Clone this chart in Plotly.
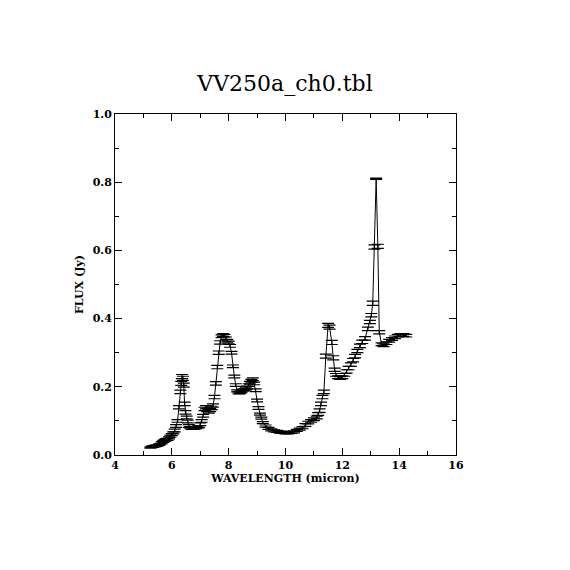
import plotly.graph_objects as go

# spectrum
wavelength = [
    5.25, 5.30, 5.35, 5.40, 5.45, 5.50, 5.55, 5.60, 5.65, 5.70,
    5.75, 5.80, 5.85, 5.90, 5.95, 6.00, 6.05, 6.10, 6.15, 6.20,
    6.25, 6.30, 6.33, 6.36, 6.39, 6.42, 6.45, 6.48, 6.52, 6.56,
    6.60, 6.65, 6.70, 6.75, 6.80, 6.85, 6.90, 6.95, 7.00, 7.05,
    7.10, 7.15, 7.20, 7.25, 7.30, 7.35, 7.40, 7.45, 7.50, 7.55,
    7.60, 7.65, 7.70, 7.75, 7.80, 7.85, 7.90, 7.95, 8.00, 8.05,
    8.10, 8.15, 8.20, 8.25, 8.30, 8.35, 8.40, 8.45, 8.50, 8.55,
    8.60, 8.65, 8.70, 8.75, 8.80, 8.85, 8.90, 8.95, 9.00, 9.05,
    9.10, 9.15, 9.20, 9.30, 9.40, 9.50, 9.60, 9.70, 9.80, 9.90,
    10.00, 10.10, 10.20, 10.30, 10.40, 10.50, 10.60, 10.70, 10.80, 10.90,
    11.00, 11.10, 11.15, 11.20, 11.25, 11.30, 11.35, 11.42, 11.50, 11.55,
    11.63, 11.68, 11.73, 11.78, 11.85, 11.92, 12.00, 12.07, 12.15, 12.22,
    12.30, 12.38, 12.45, 12.53, 12.62, 12.70, 12.80, 12.90, 12.97, 13.02,
    13.07, 13.13, 13.19, 13.25, 13.30, 13.38, 13.45, 13.55, 13.65, 13.75,
    13.85, 13.95, 14.05, 14.15, 14.25,
]
flux = [
    0.022, 0.024, 0.025, 0.026, 0.027, 0.028, 0.030, 0.032, 0.036, 0.040,
    0.043, 0.045, 0.046, 0.050, 0.055, 0.060, 0.065, 0.072, 0.085, 0.100,
    0.140, 0.185, 0.210, 0.230, 0.225, 0.205, 0.150, 0.125, 0.110, 0.098,
    0.085, 0.080, 0.078, 0.078, 0.079, 0.080, 0.082, 0.083, 0.090, 0.100,
    0.115, 0.135, 0.140, 0.132, 0.128, 0.132, 0.138, 0.145, 0.170, 0.210,
    0.258, 0.300, 0.330, 0.348, 0.352, 0.350, 0.342, 0.335, 0.330, 0.320,
    0.300, 0.260, 0.230, 0.205, 0.188, 0.182, 0.183, 0.186, 0.190, 0.192,
    0.195, 0.198, 0.205, 0.212, 0.218, 0.222, 0.210, 0.190, 0.160, 0.138,
    0.120, 0.108, 0.095, 0.085, 0.078, 0.074, 0.071, 0.069, 0.067, 0.066,
    0.065, 0.065, 0.066, 0.068, 0.072, 0.076, 0.080, 0.088, 0.095, 0.100,
    0.105, 0.110, 0.120, 0.130, 0.150, 0.170, 0.185, 0.290, 0.380, 0.375,
    0.330, 0.285, 0.250, 0.235, 0.228, 0.226, 0.228, 0.235, 0.245, 0.255,
    0.265, 0.278, 0.290, 0.305, 0.320, 0.332, 0.342, 0.370, 0.390, 0.410,
    0.445, 0.610, 0.810, 0.612, 0.360, 0.325, 0.322, 0.328, 0.335, 0.340,
    0.345, 0.350, 0.352, 0.352, 0.350,
]
flux_err = [
    0.002, 0.002, 0.002, 0.002, 0.002, 0.002, 0.002, 0.002, 0.003, 0.003,
    0.003, 0.003, 0.003, 0.003, 0.003, 0.003, 0.003, 0.004, 0.004, 0.004,
    0.005, 0.005, 0.006, 0.006, 0.006, 0.006, 0.005, 0.005, 0.004, 0.004,
    0.004, 0.003, 0.003, 0.003, 0.003, 0.003, 0.003, 0.003, 0.004, 0.004,
    0.004, 0.005, 0.005, 0.005, 0.005, 0.005, 0.005, 0.005, 0.005, 0.005,
    0.005, 0.005, 0.005, 0.004, 0.004, 0.004, 0.004, 0.004, 0.004, 0.004,
    0.004, 0.004, 0.004, 0.004, 0.003, 0.003, 0.003, 0.003, 0.003, 0.003,
    0.004, 0.004, 0.004, 0.004, 0.004, 0.004, 0.004, 0.004, 0.004, 0.004,
    0.003, 0.003, 0.003, 0.003, 0.003, 0.003, 0.003, 0.003, 0.003, 0.003,
    0.003, 0.003, 0.003, 0.003, 0.003, 0.003, 0.003, 0.004, 0.004, 0.004,
    0.004, 0.004, 0.004, 0.005, 0.005, 0.005, 0.005, 0.006, 0.006, 0.006,
    0.006, 0.006, 0.005, 0.004, 0.004, 0.004, 0.004, 0.004, 0.005, 0.005,
    0.005, 0.005, 0.005, 0.005, 0.005, 0.005, 0.005, 0.005, 0.005, 0.005,
    0.006, 0.006, 0.002, 0.006, 0.005, 0.004, 0.004, 0.004, 0.004, 0.004,
    0.004, 0.004, 0.004, 0.004, 0.004,
]

font_serif = "DejaVu Serif, serif"

fig = go.Figure()
fig.add_trace(go.Scatter(
    x=wavelength,
    y=flux,
    mode="lines",
    line=dict(color="black", width=1),
    error_y=dict(type="data", array=flux_err, visible=True,
                 color="black", thickness=1.2, width=6),
    showlegend=False,
))

fig.update_layout(
    width=570,
    height=570,
    margin=dict(l=107, r=122, t=106, b=123),
    paper_bgcolor="white",
    plot_bgcolor="white",
    font=dict(family=font_serif, color="black", size=11),
    title=dict(
        text="VV250a_ch0.tbl",
        x=0.486, xanchor="center",
        y=0.868, yanchor="middle",
        font=dict(family=font_serif, size=22, color="black"),
    ),
)
fig.update_xaxes(
    range=[4, 16],
    dtick=2,
    tick0=4,
    ticks="inside",
    ticklen=7,
    tickwidth=1,
    tickcolor="black",
    minor=dict(dtick=1, ticks="inside", ticklen=4, tickcolor="black"),
    showgrid=False,
    zeroline=False,
    showline=True,
    linecolor="black",
    linewidth=1,
    mirror="ticks",
    title=dict(text="<b>WAVELENGTH (micron)</b>", standoff=2,
               font=dict(family=font_serif, size=11)),
    tickfont=dict(family=font_serif, size=11, weight="bold"),
)
fig.update_yaxes(
    range=[0, 1.0],
    dtick=0.2,
    tick0=0,
    tickformat=".1f",
    ticks="inside",
    ticklen=7,
    tickwidth=1,
    tickcolor="black",
    minor=dict(dtick=0.1, ticks="inside", ticklen=4, tickcolor="black"),
    showgrid=False,
    zeroline=False,
    showline=True,
    linecolor="black",
    linewidth=1,
    mirror="ticks",
    title=dict(text="<b>FLUX (Jy)</b>", standoff=6,
               font=dict(family=font_serif, size=11)),
    tickfont=dict(family=font_serif, size=11, weight="bold"),
)

fig.write_html("out.html")
